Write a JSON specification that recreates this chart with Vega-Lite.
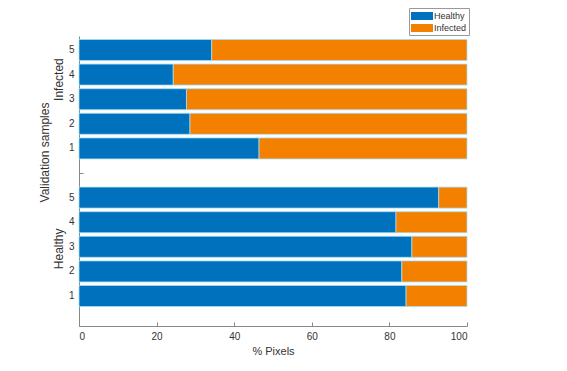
{
  "$schema": "https://vega.github.io/schema/vega-lite/v6.json",
  "width": 388,
  "height": 290,
  "autosize": "none",
  "padding": {"left": 79, "top": 36, "right": 100, "bottom": 45},
  "config": {"view": {"stroke": null}, "font": "Liberation Sans"},
  "data": {
    "values": [
      {"row": "H1", "class": "Healthy", "pct": 84.3},
      {"row": "H1", "class": "Infected", "pct": 15.7},
      {"row": "H2", "class": "Healthy", "pct": 83.2},
      {"row": "H2", "class": "Infected", "pct": 16.8},
      {"row": "H3", "class": "Healthy", "pct": 85.8},
      {"row": "H3", "class": "Infected", "pct": 14.2},
      {"row": "H4", "class": "Healthy", "pct": 81.7},
      {"row": "H4", "class": "Infected", "pct": 18.3},
      {"row": "H5", "class": "Healthy", "pct": 92.7},
      {"row": "H5", "class": "Infected", "pct": 7.3},
      {"row": "I1", "class": "Healthy", "pct": 46.4},
      {"row": "I1", "class": "Infected", "pct": 53.6},
      {"row": "I2", "class": "Healthy", "pct": 28.6},
      {"row": "I2", "class": "Infected", "pct": 71.4},
      {"row": "I3", "class": "Healthy", "pct": 27.7},
      {"row": "I3", "class": "Infected", "pct": 72.3},
      {"row": "I4", "class": "Healthy", "pct": 24.3},
      {"row": "I4", "class": "Infected", "pct": 75.7},
      {"row": "I5", "class": "Healthy", "pct": 34.2},
      {"row": "I5", "class": "Infected", "pct": 65.8}
    ]
  },
  "resolve": {"axis": {"y": "independent"}},
  "layer": [
    {
      "mark": {"type": "bar", "stroke": "#a8dcf2", "strokeWidth": 0.8},
      "encoding": {
        "y": {
          "field": "row",
          "type": "nominal",
          "scale": {
            "domain": ["I5", "I4", "I3", "I2", "I1", "gap", "H5", "H4", "H3", "H2", "H1"],
            "paddingInner": 0.146,
            "paddingOuter": 0.467,
            "align": 0.152
          },
          "axis": {
            "orient": "left",
            "title": null,
            "labelExpr": "datum.value == 'gap' ? '' : substring(datum.value, 1)",
            "tickSize": -4,
            "domainColor": "#888888",
            "tickColor": "#888888",
            "labelColor": "#333333",
            "labelFontSize": 10,
            "labelPadding": 9
          }
        },
        "x": {
          "field": "pct",
          "type": "quantitative",
          "stack": "zero",
          "scale": {"domain": [0, 100]},
          "axis": {
            "values": [0, 20, 40, 60, 80, 100],
            "grid": false,
            "tickSize": -4,
            "domainColor": "#888888",
            "tickColor": "#888888",
            "labelColor": "#333333",
            "labelFontSize": 10,
            "labelPadding": 9,
            "title": "% Pixels",
            "titleFontSize": 11,
            "titleFontWeight": "normal",
            "titleColor": "#333333",
            "titlePadding": 4
          }
        },
        "color": {
          "field": "class",
          "type": "nominal",
          "scale": {"domain": ["Healthy", "Infected"], "range": ["#0072BD", "#F48000"]},
          "legend": {
            "title": null,
            "orient": "none",
            "legendX": 330,
            "legendY": -28,
            "direction": "vertical",
            "fillColor": "white",
            "strokeColor": "#999999",
            "padding": 2,
            "symbolType": "M-1.83,-0.67H1.83V0.67H-1.83Z",
            "symbolSize": 144,
            "symbolOffset": 5,
            "symbolStrokeWidth": 0,
            "labelFontSize": 9,
            "labelColor": "#333333",
            "labelOffset": 6,
            "rowPadding": 1
          }
        }
      }
    },
    {
      "mark": {"type": "point", "opacity": 0},
      "encoding": {
        "y": {
          "field": "row",
          "type": "nominal",
          "axis": {
            "orient": "left",
            "offset": 0,
            "values": ["I4", "H3"],
            "labelExpr": "datum.value == 'I4' ? 'Infected' : 'Healthy'",
            "labelAngle": -90,
            "labelAlign": "center",
            "labelBaseline": "bottom",
            "domain": false,
            "ticks": false,
            "labelPadding": 14,
            "labelFontSize": 12,
            "labelColor": "#333333",
            "labelOffset": {"condition": {"test": "datum.value == 'I4'", "value": 5}, "value": 2},
            "title": "Validation samples",
            "titleFontSize": 12,
            "titleFontWeight": "normal",
            "titleColor": "#333333",
            "titleX": -35,
            "titleY": 116,
            "titleBaseline": "middle",
            "titleAngle": -90
          }
        }
      }
    }
  ]
}
